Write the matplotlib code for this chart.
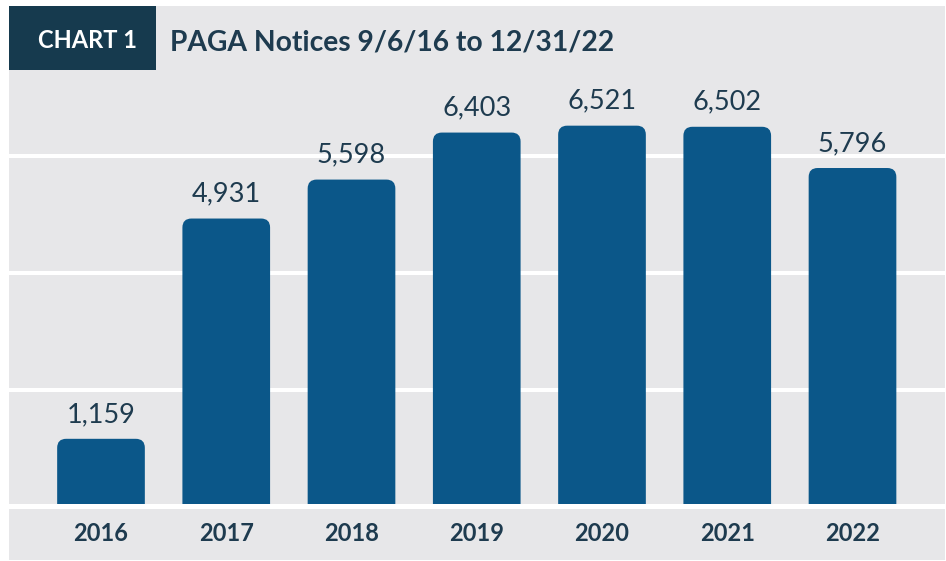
import matplotlib.pyplot as plt
from matplotlib.patches import PathPatch, Rectangle
from matplotlib.path import Path

years = ['2016', '2017', '2018', '2019', '2020', '2021', '2022']
notices = [1159, 4931, 5598, 6403, 6521, 6502, 5796]
gridlines = [2000, 4000, 6000]

GRAY = '#e7e7e9'
NAVY = '#163a4e'
BAR = '#0b5789'
TEXT = '#1e3b4f'


def px(x, y):
    # pixel position (from top-left) -> figure fraction
    return x / 946, 1 - y / 561


def top_rounded_bar(xc, h, w, rx, ry):
    xl, xr = xc - w / 2, xc + w / 2
    verts = [(xl, 0), (xl, h - ry), (xl, h), (xl + rx, h), (xr - rx, h),
             (xr, h), (xr, h - ry), (xr, 0), (xl, 0)]
    codes = [Path.MOVETO, Path.LINETO, Path.CURVE3, Path.CURVE3, Path.LINETO,
             Path.CURVE3, Path.CURVE3, Path.LINETO, Path.CLOSEPOLY]
    return Path(verts, codes)


def main():
    plt.rcParams['font.family'] = ['Lato', 'DejaVu Sans']
    fig = plt.figure(figsize=(9.46, 5.61), dpi=100)

    # gray panel behind everything
    x0, y0 = px(9, 560)
    x1, y1 = px(945, 6)
    fig.patches.append(Rectangle((x0, y0), x1 - x0, y1 - y0, transform=fig.transFigure,
                                 facecolor=GRAY, edgecolor='none', zorder=-10))

    ax_l, ax_b = px(9, 511)
    ax_r, ax_t = px(945, 6)
    ax = fig.add_axes([ax_l, ax_b, ax_r - ax_l, ax_t - ax_b])
    ax.set_facecolor('none')
    for s in ax.spines.values():
        s.set_visible(False)

    # scales: 125.25 px per category, 0.0584 px per notice, zero at y=506.5
    ppu = 0.0584
    xspan = 936 / 125.25
    xleft = -(101 - 9) / 125.25
    ax.set_xlim(xleft, xleft + xspan)
    ax.set_ylim(-(511 - 506.5) / ppu, (506.5 - 6) / ppu)

    for g in gridlines:
        ax.axhline(g, color='white', lw=2.9, zorder=1)
    ax.axhline(1 / ppu, color='white', lw=3.6, zorder=4, clip_on=False)

    width = 0.70
    rx = 9 / 125.25
    ry = 9 / ppu
    for i, v in enumerate(notices):
        ax.add_patch(PathPatch(top_rounded_bar(i, v, width, rx, ry),
                               facecolor=BAR, edgecolor='none', zorder=2))
        ax.text(i, v + 17 / ppu, f'{v:,}', ha='center', va='baseline',
                fontsize=19.5, color=TEXT, zorder=5)

    ax.set_xticks(range(len(years)))
    ax.set_xticklabels(years, fontsize=17, fontweight='bold', color=TEXT)
    ax.tick_params(axis='x', length=0, pad=8)
    ax.set_yticks([])

    # header
    bx0, by0 = px(9, 70)
    bx1, by1 = px(156, 6)
    fig.patches.append(Rectangle((bx0, by0), bx1 - bx0, by1 - by0, transform=fig.transFigure,
                                 facecolor=NAVY, edgecolor='none', zorder=1))
    fig.text(*px(87, 41), 'CHART 1', ha='center', va='center', fontsize=17,
             fontweight='bold', color='white')
    fig.text(*px(170, 51), 'PAGA Notices 9/6/16 to 12/31/22', ha='left',
             va='baseline', fontsize=20.3, fontweight='bold', color=TEXT)

    fig.savefig('out.png', dpi=100)


if __name__ == '__main__':
    main()
